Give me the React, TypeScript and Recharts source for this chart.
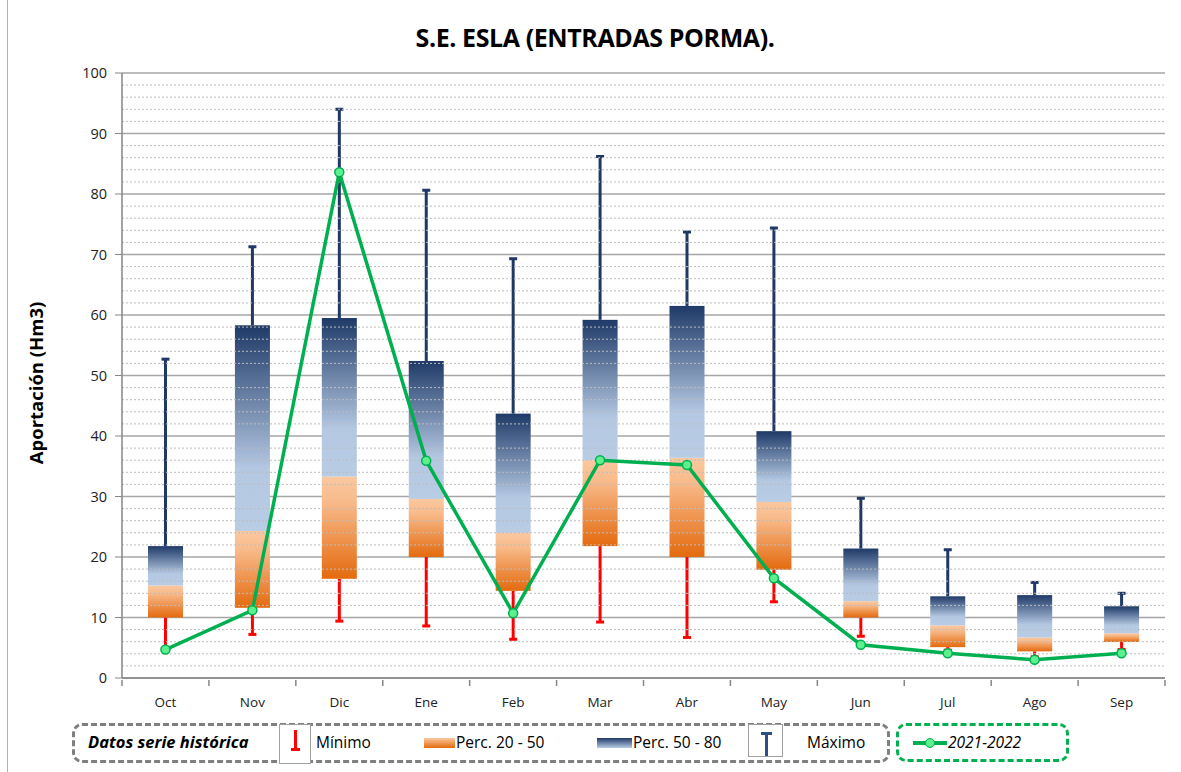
import React from "react";
import {
  ComposedChart,
  Bar,
  Line,
  XAxis,
  YAxis,
  CartesianGrid,
  ReferenceLine,
} from "recharts";

// Monthly inflow stats (Hm3)
const months = ["Oct", "Nov", "Dic", "Ene", "Feb", "Mar", "Abr", "May", "Jun", "Jul", "Ago", "Sep"];
const minimo = [4.6, 7.2, 9.4, 8.6, 6.4, 9.25, 6.7, 12.6, 6.9, 4.6, 3.5, 4.7];
const perc20 = [10.0, 11.6, 16.4, 20.0, 14.4, 21.8, 20.0, 17.9, 10.0, 5.1, 4.4, 5.95];
const perc50 = [15.3, 24.3, 33.3, 29.6, 24.0, 36.0, 36.4, 29.1, 12.7, 8.7, 6.7, 7.4];
const perc80 = [21.8, 58.3, 59.5, 52.4, 43.7, 59.2, 61.5, 40.8, 21.4, 13.5, 13.7, 11.85];
const maximo = [52.7, 71.3, 94.0, 80.6, 69.3, 86.2, 73.7, 74.4, 29.7, 21.2, 15.8, 14.0];
const serie2122 = [4.7, 11.2, 83.6, 35.9, 10.7, 36.0, 35.2, 16.5, 5.5, 4.1, 3.0, 4.1];

const majorTicks = [0, 10, 20, 30, 40, 50, 60, 70, 80, 90, 100];
const minorTicks = [
  2, 4, 6, 8, 12, 14, 16, 18, 22, 24, 26, 28, 32, 34, 36, 38, 42, 44, 46, 48,
  52, 54, 56, 58, 62, 64, 66, 68, 72, 74, 76, 78, 82, 84, 86, 88, 92, 94, 96, 98,
];

const data = months.map((m, i) => ({
  month: m,
  base: perc20[i],
  low: perc50[i] - perc20[i],
  high: perc80[i] - perc50[i],
  minimo: minimo[i],
  maximo: maximo[i],
  p20: perc20[i],
  p80: perc80[i],
  serie: serie2122[i],
}));

const FONT = "'Open Sans', 'Liberation Sans', sans-serif";
const PLOT_LEFT = 122;
const PLOT_RIGHT = 1165;
const BAND = (PLOT_RIGHT - PLOT_LEFT) / months.length;

// transparent base bar -> draws the red minimum whisker below p20
const MinShape = (props: any) => {
  const { x, y, width, height, payload } = props;
  if (!height) return null;
  const ppu = height / payload.p20;
  const cx = x + width / 2;
  const yMin = y + (payload.p20 - payload.minimo) * ppu;
  return (
    <g>
      <line x1={cx} x2={cx} y1={y} y2={yMin} stroke="#FF0000" strokeWidth={3} />
      <line x1={cx - 4} x2={cx + 4} y1={yMin} y2={yMin} stroke="#FF0000" strokeWidth={3} />
    </g>
  );
};

const OrangeShape = (props: any) => {
  const { x, y, width, height } = props;
  return <rect x={x} y={y} width={width} height={height} fill="url(#gradOrange)" />;
};

// blue box plus the navy maximum whisker above p80
const BlueShape = (props: any) => {
  const { x, y, width, height, payload } = props;
  const ppu = height / (payload.p80 - payload.base - payload.low);
  const cx = x + width / 2;
  const yMax = y - (payload.maximo - payload.p80) * ppu;
  return (
    <g>
      <line x1={cx} x2={cx} y1={y} y2={yMax} stroke="#1F3864" strokeWidth={3} />
      <line x1={cx - 4} x2={cx + 4} y1={yMax} y2={yMax} stroke="#1F3864" strokeWidth={3} />
      <rect x={x} y={y} width={width} height={height} fill="url(#gradBlue)" />
    </g>
  );
};

const MonthTick = (props: any) => {
  const { x, y, payload, index } = props;
  return (
    <g>
      <line x1={x - BAND / 2} x2={x - BAND / 2} y1={y} y2={y + 6} stroke="#868686" strokeWidth={1.5} />
      {index === months.length - 1 && (
        <line x1={x + BAND / 2} x2={x + BAND / 2} y1={y} y2={y + 6} stroke="#868686" strokeWidth={1.5} />
      )}
      <text x={x} y={y + 27} textAnchor="middle" fontSize={13.5} fill="#222" fontFamily={FONT}>
        {payload.value}
      </text>
    </g>
  );
};

const GreenDot = (props: any) => {
  const { cx, cy } = props;
  return <circle cx={cx} cy={cy} r={4.5} fill="#5CF08E" stroke="#00B050" strokeWidth={1.5} />;
};

export default function App() {
  return (
    <div
      style={{
        position: "absolute",
        left: 0,
        top: 0,
        width: 1181,
        height: 772,
        background: "#fff",
        fontFamily: FONT,
        overflow: "hidden",
      }}
    >
      <div style={{ position: "absolute", left: 7, top: 0, width: 1, height: 772, background: "#B0B0B0" }} />
      <div
        style={{
          position: "absolute",
          top: 20,
          left: 0,
          width: 1190,
          textAlign: "center",
          fontSize: 25,
          fontWeight: 700,
          color: "#000",
          letterSpacing: -0.4,
        }}
      >
        S.E. ESLA (ENTRADAS PORMA).
      </div>
      <div
        style={{
          position: "absolute",
          left: 35,
          top: 383,
          transform: "translate(-50%, -50%) rotate(-90deg)",
          fontSize: 18.5,
          fontWeight: 700,
          whiteSpace: "nowrap",
          color: "#000",
        }}
      >
        Aportación (Hm3)
      </div>

      <div style={{ position: "absolute", left: 0, top: 0 }}>
        <ComposedChart
          width={1181}
          height={718}
          data={data}
          margin={{ top: 73, right: 1181 - PLOT_RIGHT, bottom: 0, left: 0 }}
          barCategoryGap={0}
          barGap={0}
        >
          <defs>
            <linearGradient id="gradOrange" x1="0" y1="0" x2="0" y2="1">
              <stop offset="0%" stopColor="#FAC8A0" />
              <stop offset="25%" stopColor="#F8BA8A" />
              <stop offset="100%" stopColor="#E46A0E" />
            </linearGradient>
            <linearGradient id="gradBlue" x1="0" y1="0" x2="0" y2="1">
              <stop offset="0%" stopColor="#1F3A68" />
              <stop offset="70%" stopColor="#B4C8E2" />
              <stop offset="100%" stopColor="#B8CCE4" />
            </linearGradient>
          </defs>
          {minorTicks.map((v) => (
            <ReferenceLine key={v} y={v} stroke="#BDBDBD" strokeWidth={1} strokeDasharray="2 2" />
          ))}
          <CartesianGrid vertical={false} stroke="#A6A6A6" strokeWidth={1.5} />
          <XAxis
            dataKey="month"
            height={40}
            tickSize={0}
            tickLine={false}
            axisLine={{ stroke: "#868686", strokeWidth: 1.5 }}
            tick={<MonthTick />}
            interval={0}
          />
          <YAxis
            width={PLOT_LEFT}
            domain={[0, 100]}
            ticks={majorTicks}
            tickSize={7}
            tickMargin={8}
            axisLine={{ stroke: "#868686", strokeWidth: 1.5 }}
            tickLine={{ stroke: "#868686" }}
            tick={{ fontSize: 14.5, fill: "#222", fontFamily: FONT }}
            allowDataOverflow
          />
          <Bar dataKey="base" stackId="box" barSize={35} fill="none" shape={<MinShape />} isAnimationActive={false} />
          <Bar dataKey="low" stackId="box" barSize={35} shape={<OrangeShape />} isAnimationActive={false} />
          <Bar dataKey="high" stackId="box" barSize={35} shape={<BlueShape />} isAnimationActive={false} />
          <Line
            type="linear"
            dataKey="serie"
            stroke="#00B050"
            strokeWidth={3.5}
            dot={<GreenDot />}
            activeDot={false}
            isAnimationActive={false}
          />
        </ComposedChart>
      </div>

      {/* legend: historical series */}
      <div
        style={{
          position: "absolute",
          left: 72,
          top: 723,
          width: 812,
          height: 34,
          border: "3px dashed #7F7F7F",
          borderRadius: 10,
        }}
      />
      <div style={{ position: "absolute", left: 88, top: 730, fontSize: 16.5, fontWeight: 700, fontStyle: "italic" }}>
        Datos serie histórica
      </div>
      <div style={{ position: "absolute", left: 279, top: 724, width: 30, height: 38, border: "1px solid #A0A0A0", background: "#fff" }}>
        <div style={{ position: "absolute", left: 14, top: 5, width: 3, height: 20, background: "#FF0000" }} />
        <div style={{ position: "absolute", left: 11, top: 23, width: 9, height: 3, background: "#FF0000" }} />
      </div>
      <div style={{ position: "absolute", left: 316, top: 731, fontSize: 15.5 }}>Mínimo</div>
      <div
        style={{
          position: "absolute",
          left: 424,
          top: 738,
          width: 31,
          height: 10,
          background: "linear-gradient(#FAC8A0, #E46A0E)",
        }}
      />
      <div style={{ position: "absolute", left: 456, top: 731, fontSize: 15.5 }}>Perc. 20 - 50</div>
      <div
        style={{
          position: "absolute",
          left: 597,
          top: 738,
          width: 35,
          height: 10,
          background: "linear-gradient(#1F3A68, #B8CCE4)",
        }}
      />
      <div style={{ position: "absolute", left: 633, top: 731, fontSize: 15.5 }}>Perc. 50 - 80</div>
      <div style={{ position: "absolute", left: 748, top: 724, width: 33, height: 31, border: "1px solid #A0A0A0", background: "#fff" }}>
        <div style={{ position: "absolute", left: 16, top: 8, width: 3, height: 23, background: "#2E4F80" }} />
        <div style={{ position: "absolute", left: 12, top: 7, width: 11, height: 3, background: "#2E4F80" }} />
      </div>
      <div style={{ position: "absolute", left: 807, top: 731, fontSize: 15.5 }}>Máximo</div>

      {/* legend: current year */}
      <div
        style={{
          position: "absolute",
          left: 896,
          top: 723,
          width: 167,
          height: 33,
          border: "3px dashed #00B050",
          borderRadius: 10,
        }}
      />
      <div style={{ position: "absolute", left: 913, top: 741, width: 34, height: 4, background: "#00B050" }} />
      <div
        style={{
          position: "absolute",
          left: 925,
          top: 738,
          width: 8,
          height: 8,
          borderRadius: "50%",
          background: "#5CF08E",
          border: "1.5px solid #00B050",
        }}
      />
      <div style={{ position: "absolute", left: 948, top: 731, fontSize: 15.5, fontStyle: "italic" }}>2021-2022</div>
    </div>
  );
}
